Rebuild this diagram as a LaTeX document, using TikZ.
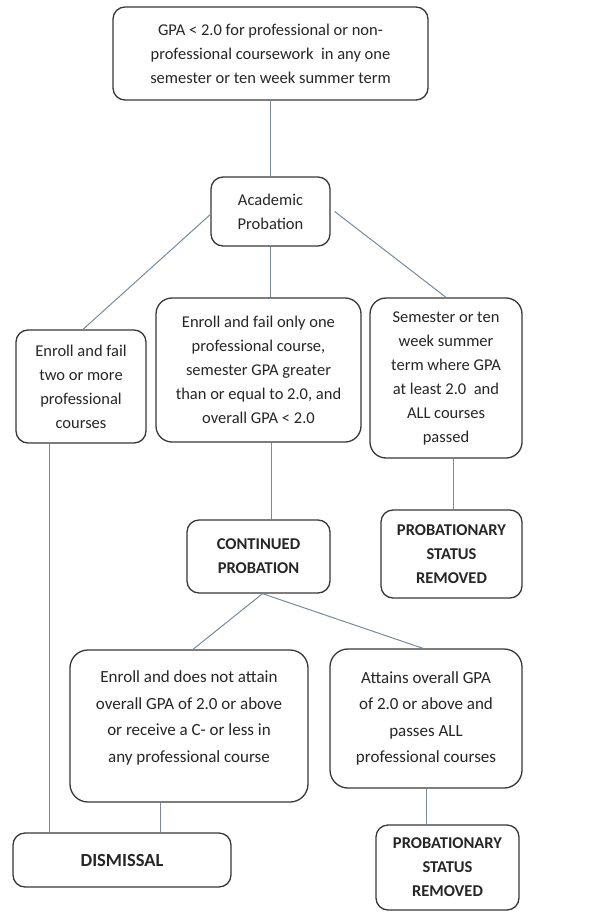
\documentclass[tikz,border=0pt]{standalone}
\usepackage{fontspec}
\setmainfont{Carlito}
\usetikzlibrary{calc}
\definecolor{boxline}{HTML}{383838}
\definecolor{connc}{HTML}{7A8A9A}
\definecolor{txt}{HTML}{262626}
\begin{document}
\begin{tikzpicture}[x=1pt,y=-1pt,
  box/.style={draw=boxline, line width=1.3pt, rounded corners=12pt, align=center, text=txt, inner sep=0pt, font=\fontsize{16.5}{24}\selectfont},
  bbox/.style={box, font=\fontsize{16.5}{24}\selectfont\bfseries},
  conn/.style={draw=connc, line width=1pt}]
\useasboundingbox[fill=white] (0,0) rectangle (590,912);
\node[box, minimum width=315pt, minimum height=93pt] (top) at (270.5,53.5) {GPA < 2.0 for professional or non-\\professional coursework\ \ in any one\\semester or ten week summer term};
\node[box, minimum width=119pt, minimum height=69pt] (ap) at (270.5,211.5) {Academic\\Probation};
\node[box, minimum width=130pt, minimum height=113pt] (left1) at (81,386.5) {Enroll and fail\\two or more\\professional\\courses};
\node[box, minimum width=205pt, minimum height=144pt, rounded corners=16pt] (mid1) at (258.5,370) {Enroll and fail only one\\professional course,\\semester GPA greater\\than or equal to 2.0, and\\overall GPA < 2.0};
\node[box, minimum width=152pt, minimum height=160pt, rounded corners=16pt] (right1) at (446,378) {Semester or ten\\week summer\\term where GPA\\at least 2.0\ \ and\\ALL courses\\passed};
\node[bbox, minimum width=143pt, minimum height=73pt] (cp) at (258.5,556.5) {CONTINUED\\PROBATION};
\node[bbox, minimum width=141pt, minimum height=88pt] (psr1) at (451.5,554) {PROBATIONARY\\STATUS\\REMOVED};
\node[box, minimum width=238pt, minimum height=152pt, rounded corners=18pt, font=\fontsize{17}{26.5}\selectfont] (left2) at (189,726) {Enroll and does not attain\\overall GPA of 2.0 or above\\or receive a C- or less in\\any professional course\\[-8pt]};
\node[box, minimum width=192pt, minimum height=139pt, rounded corners=18pt, font=\fontsize{17}{26.5}\selectfont] (right2) at (426,718.5) {Attains overall GPA\\of 2.0 or above and\\passes ALL\\professional courses};
\node[bbox, minimum width=218pt, minimum height=54pt, font=\fontsize{18.5}{24}\selectfont\bfseries] (dis) at (122,860) {DISMISSAL};
\node[bbox, minimum width=143pt, minimum height=85pt] (psr2) at (447.5,867.5) {PROBATIONARY\\STATUS\\REMOVED};
\coordinate (l1b) at ($(left1.south)+(-32,0)$);
\coordinate (l2b) at ($(left2.south)+(-29,0)$);
\coordinate (r1b) at ($(right1.south)+(7,0)$);
\draw[conn] (top.south) -- (ap.north);
\draw[conn] ($(ap.west)+(0,3)$) -- ($(left1.north)+(2,0)$);
\draw[conn] (ap.south) -- (ap.south |- mid1.north);
\draw[conn] ($(ap.east)+(4,0)$) -- (right1.north);
\draw[conn] ($(mid1.south)+(13,0)$) -- ($(cp.north)+(13,0)$);
\draw[conn] (r1b) -- (r1b |- psr1.north);
\draw[conn] ($(cp.south)+(4,0)$) -- ($(left2.north)+(4,0)$);
\draw[conn] ($(cp.south)+(4,0)$) -- ($(right2.north)+(-3,0)$);
\draw[conn] (l1b) -- (l1b |- dis.north);
\draw[conn] (l2b) -- (l2b |- dis.north);
\draw[conn] (right2.south) -- (right2.south |- psr2.north);
\end{tikzpicture}
\end{document}
